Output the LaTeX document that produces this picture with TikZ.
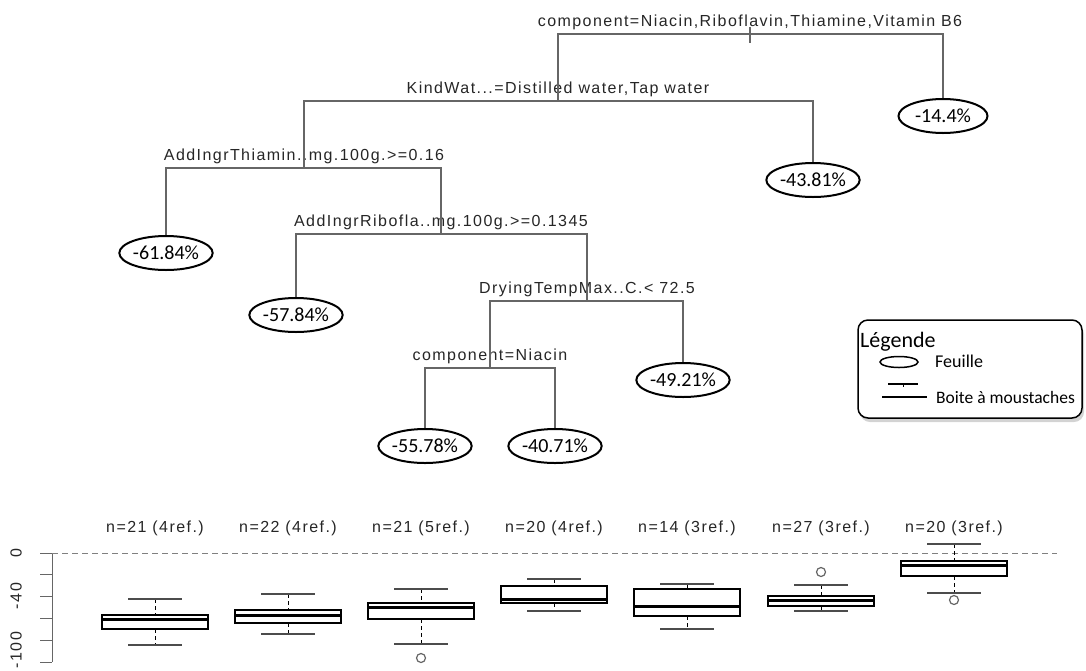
\documentclass[tikz,border=0pt]{standalone}
\usepackage{fontspec}
\usepackage{tikz}
\usetikzlibrary{shapes.geometric,shadows}
\newfontfamily\rfont[LetterSpace=9,Ligatures=CommonOff]{Liberation Sans}
\newfontfamily\cfont{Carlito}

\begin{document}
\begin{tikzpicture}[x=1pt,y=-1pt,
    branch/.style={draw=black!60,line width=1.2pt},
    split/.style={anchor=base,inner sep=0pt,text=black!85,font=\rfont\fontsize{16}{18}\selectfont},
    leaf/.style={ellipse,draw,line width=2pt,minimum width=89pt,minimum height=34pt,inner sep=0pt,font=\cfont\fontsize{20}{22}\selectfont},
    whisk/.style={line width=1pt,dash pattern=on 4pt off 3pt},
    nlab/.style={anchor=base,inner sep=0pt,text=black!85,font=\rfont\fontsize{16}{18}\selectfont},
    ylab/.style={rotate=90,inner sep=0pt,text=black!85,font=\rfont\fontsize{16}{18}\selectfont}]
  \useasboundingbox (0,0) rectangle (1086,670);

  \coordinate (root) at (750,34);
  \coordinate (kind) at (558,101);
  \coordinate (thia) at (304,168);
  \coordinate (ribo) at (441,234);
  \coordinate (dry) at (587,301);
  \coordinate (niac) at (490,368);

  \node[split] (rootlab) at ([yshift=8pt]root) {component=Niacin,Riboflavin,Thiamine,Vitamin B6};
  \node[split] (kindlab) at ([yshift=8pt]kind) {KindWat...=Distilled water,Tap water};
  \node[split] (thialab) at ([yshift=8pt]thia) {AddIngrThiamin..mg.100g.>=0.16};
  \node[split] (ribolab) at ([yshift=8pt]ribo) {AddIngrRibofla..mg.100g.>=0.1345};
  \node[split] (drylab) at ([yshift=8pt]dry) {DryingTempMax..C.< 72.5};
  \node[split] (niaclab) at ([yshift=8pt]niac) {component=Niacin};

  \node[leaf] (l1) at (943,116) {-14.4\%};
  \node[leaf] (l2) at (813,180) {-43.81\%};
  \node[leaf] (l3) at (166,253) {-61.84\%};
  \node[leaf] (l4) at (296,315) {-57.84\%};
  \node[leaf] (l5) at (683,380) {-49.21\%};
  \node[leaf] (l6) at (425,446) {-55.78\%};
  \node[leaf] (l7) at (555,446) {-40.71\%};

  \draw[branch] (kind) |- (root) -| (l1.north);
  \draw[branch] (thia) |- (kind) -| (l2.north);
  \draw[branch] (l3.north) |- (thia) -| (ribo);
  \draw[branch] (l4.north) |- (ribo) -| (dry);
  \draw[branch] (niac) |- (dry) -| (l5.north);
  \draw[branch] (l6.north) |- (niac) -| (l7.north);
  \draw[branch] ([yshift=7pt]root) -- ([yshift=-9pt]root);

  \node[draw,rounded corners=10pt,line width=1.5pt,fill=white,minimum width=224pt,minimum height=98pt,
    drop shadow={shadow xshift=2pt,shadow yshift=-4pt,opacity=.35}] (legend) at (970,369) {};
  \node[anchor=base west,inner sep=0pt,font=\cfont\fontsize{22}{24}\selectfont] (legtitle) at (860,347) {Légende};
  \node[ellipse,draw,line width=1.5pt,minimum width=38pt,minimum height=11pt,inner sep=0pt] (legleaf) at (899,362) {};
  \node[anchor=base west,inner sep=0pt,font=\cfont\fontsize{18}{20}\selectfont] (legfeuille) at (935,367) {Feuille};
  \draw[line width=2pt] (888,384) -- (918,384);
  \draw[line width=1pt] (903,384) -- (903,387);
  \draw[line width=2.5pt] (882,397) -- (927,397);
  \node[anchor=base west,inner sep=0pt,font=\cfont\fontsize{17.5}{20}\selectfont] (legboite) at (936,403) {Boite à moustaches};

  \draw[black!60,line width=1pt] (52,553) -- (52,662);
  \foreach \t in {0,...,5}
    \draw[black!60,line width=1pt] (40,{553+21.8*\t}) -- (52,{553+21.8*\t});
  \node[ylab] (y0) at (16,553) {0};
  \node[ylab] (y40) at (16,596) {-40};
  \node[ylab] (y100) at (16,650) {-100};
  \draw[black!50,line width=1pt,dash pattern=on 6pt off 4pt] (52,553) -- (1057,553);

  \foreach \cx/\uw/\qa/\md/\qb/\lw/\lab in {155/599/615/619/629/645/{n=21 (4ref.)},
      288/594/610/615/623/634/{n=22 (4ref.)},421/589/603/607/619/644/{n=21 (5ref.)},
      554/579/586/599/603/611/{n=20 (4ref.)},687/584/589/606/616/629/{n=14 (3ref.)},
      821/585/596/600/606/611/{n=27 (3ref.)},954/544/561/565/576/593/{n=20 (3ref.)}}{
    \draw[whisk] (\cx,\uw) -- (\cx,\qa) (\cx,\qb) -- (\cx,\lw);
    \draw[black!70,line width=1.2pt] (\cx-27,\uw) -- (\cx+27,\uw) (\cx-27,\lw) -- (\cx+27,\lw);
    \draw[line width=1.2pt] (\cx-53,\qa) rectangle (\cx+53,\qb);
    \draw[line width=3pt] (\cx-53,\md) -- (\cx+53,\md);
    \node[nlab] (n\cx) at (\cx,532) {\lab};
  }
  \draw[black!60,line width=1.2pt] (421,658) circle[radius=4.5pt];
  \draw[black!60,line width=1.2pt] (821,572) circle[radius=4.5pt];
  \draw[black!60,line width=1.2pt] (954,600) circle[radius=4.5pt];
\end{tikzpicture}
\end{document}
